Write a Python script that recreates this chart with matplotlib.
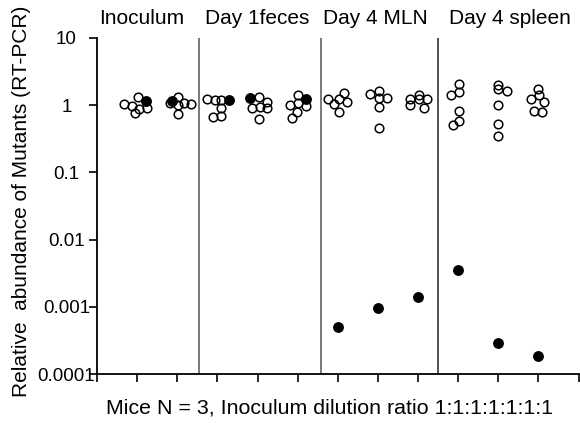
import matplotlib
matplotlib.use("Agg")
import matplotlib.pyplot as plt
import numpy as np

plt.rcParams['font.family'] = ['Liberation Sans', 'DejaVu Sans']

groups = ["Inoculum", "Day 1feces", "Day 4 MLN", "Day 4 spleen"]
cluster_x = [1, 2, 3, 4, 5, 6, 7, 8, 9, 10, 11]

# open circles (mutants): values and horizontal jitter per cluster
open_vals = [
    [1.04, 1.34, 0.98, 0.88, 0.76, 0.90],
    [1.34, 1.07, 1.01, 1.07, 1.04, 0.73],
    [1.22, 1.19, 1.19, 0.90, 0.66, 0.70],
    [1.31, 1.13, 0.90, 0.95, 0.90, 0.62],
    [1.42, 1.01, 1.07, 0.98, 0.78, 0.65],
    [1.24, 1.04, 1.24, 1.50, 1.13, 0.78],
    [1.47, 1.64, 1.27, 1.27, 0.95, 0.46],
    [1.22, 1.42, 1.22, 1.22, 1.01, 0.92],
    [2.07, 1.56, 1.42, 0.82, 0.59, 0.50],
    [2.00, 1.74, 1.63, 1.01, 0.52, 0.35],
    [1.74, 1.42, 1.22, 1.13, 0.82, 0.78],
]
open_jitter = [
    [-0.32, 0.02, -0.12, 0.05, -0.05, 0.24],
    [0.01, -0.18, 0.01, 0.17, 0.35, 0.01],
    [-0.26, -0.05, 0.09, 0.09, -0.11, 0.09],
    [0.03, 0.24, -0.14, 0.07, 0.24, 0.03],
    [0.00, -0.20, 0.02, 0.22, -0.02, -0.14],
    [-0.25, -0.10, 0.02, 0.16, 0.23, 0.04],
    [-0.19, 0.02, 0.02, 0.23, 0.02, 0.02],
    [-0.19, 0.02, 0.02, 0.23, -0.19, 0.16],
    [0.02, 0.02, -0.18, 0.02, 0.02, -0.13],
    [0.00, 0.00, 0.21, 0.00, 0.00, 0.00],
    [0.00, 0.02, -0.19, 0.15, -0.12, 0.08],
]
# filled circles (reference strain)
black_vals = [1.17, 1.17, 1.19, 1.27, 1.24, 0.000506, 0.00096, 0.0014, 0.0035, 0.00029, 0.000185]
black_jitter = [0.22, -0.14, 0.30, -0.18, 0.22, 0, 0, 0, 0, 0, 0]

group_centers = [1.12, 4.0, 6.95, 10.3]
separators = [2.55, 5.58, 8.5]

ytick_vals = [1e-4, 1e-3, 1e-2, 1e-1, 1, 10]
ytick_labels = ['0.0001', '0.001', '0.01', '0.1', '1', '10']

fig = plt.figure(figsize=(5.8, 4.23), dpi=100)
ax = fig.add_axes([97/580, 1-374/423, (578.5-97)/580, (374-38)/423])

ax.set_yscale('log')
ax.set_ylim(1e-4, 10)
ax.set_xlim(0, 12)

for xc, vals, jit in zip(cluster_x, open_vals, open_jitter):
    xs = np.array(jit) + xc
    ax.plot(xs, vals, linestyle='none', marker='o', markersize=6.2,
            markerfacecolor='none', markeredgecolor='black', markeredgewidth=1.1,
            clip_on=False)

bx = np.array(cluster_x) + np.array(black_jitter)
ax.plot(bx, black_vals, linestyle='none', marker='o', markersize=6.8,
        markerfacecolor='black', markeredgecolor='black', clip_on=False, zorder=3)

for s, c in zip(separators, ['#555555', '#555555', '#222222']):
    ax.axvline(s, color=c, linewidth=1.1)

for g, c in zip(groups, group_centers):
    ax.text(c, 1.058, g, transform=ax.get_xaxis_transform(), ha='center', va='center',
            fontsize=15)

ax.spines['top'].set_visible(False)
ax.spines['right'].set_visible(False)
ax.spines['left'].set_linewidth(1.3)
ax.spines['bottom'].set_linewidth(1.3)

ax.set_yticks(ytick_vals)
ax.set_yticklabels(ytick_labels, fontsize=13.5, ha='center')
ax.yaxis.set_minor_locator(matplotlib.ticker.NullLocator())
ax.tick_params(axis='y', direction='out', length=6, width=1.2, pad=16)
ax.set_xticks(np.arange(0, 13))
ax.set_xticklabels([])
ax.tick_params(axis='x', direction='out', length=6, width=1.2)

ax.set_ylabel('Relative  abundance of Mutants (RT-PCR)', fontsize=15)
ax.yaxis.set_label_coords(-0.137, 0.515)
ax.set_xlabel('Mice N = 3, Inoculum dilution ratio 1:1:1:1:1:1:1', fontsize=15.4)
ax.xaxis.set_label_coords(0.482, -0.1)
ax.xaxis.label.set_va('center')

fig.savefig('out.png', dpi=100)
